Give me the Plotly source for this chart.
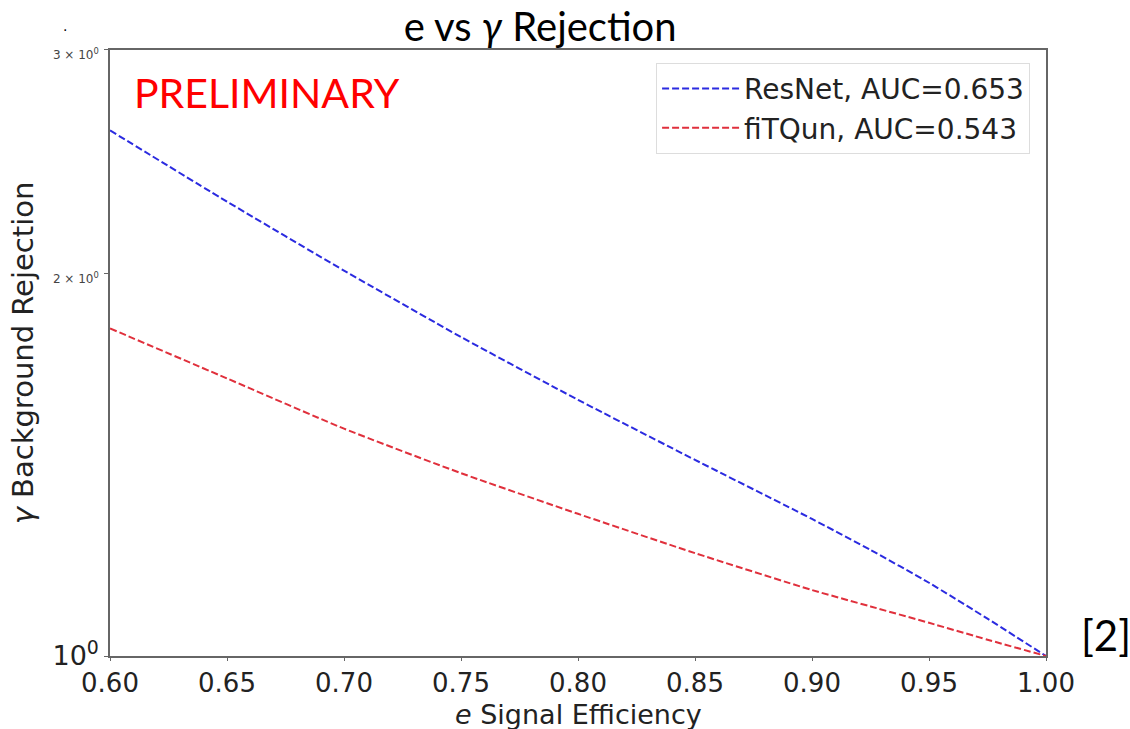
import plotly.graph_objects as go

# Data
efficiency = [0.60, 0.65, 0.70, 0.75, 0.80, 0.85, 0.90, 0.925, 0.95, 0.975, 1.00]
resnet_rej = [2.593, 2.279, 2.011, 1.783, 1.591, 1.427, 1.282, 1.212, 1.142, 1.070, 1.00]
fitqun_rej = [1.811, 1.654, 1.510, 1.393, 1.294, 1.205, 1.127, 1.094, 1.062, 1.030, 1.00]

x_ticks = [0.60, 0.65, 0.70, 0.75, 0.80, 0.85, 0.90, 0.95, 1.00]
x_ticklabels = ["0.60", "0.65", "0.70", "0.75", "0.80", "0.85", "0.90", "0.95", "1.00"]
y_ticks = [1, 2, 3]
y_ticklabels = [
    "10<sup>0</sup>",
    "<span style='font-size:12px;color:#444'>2 × 10<sup>0</sup></span>",
    "<span style='font-size:12px;color:#444'>3 × 10<sup>0</sup></span>",
]

fig = go.Figure()
fig.add_trace(go.Scatter(
    x=efficiency, y=resnet_rej, mode="lines", name="ResNet, AUC=0.653",
    line=dict(color="#2b2be0", width=2, dash="7px,3px", shape="spline", smoothing=0.5),
))
fig.add_trace(go.Scatter(
    x=efficiency, y=fitqun_rej, mode="lines", name="fiTQun, AUC=0.543",
    line=dict(color="#e0303c", width=2, dash="7px,3px", shape="spline", smoothing=0.5),
))

tick_font = dict(family="DejaVu Sans", size=26, color="#222")

fig.update_layout(
    width=1130, height=729,
    margin=dict(l=110, r=84, t=50, b=73),
    paper_bgcolor="white", plot_bgcolor="white",
    title=dict(text="e vs <i>γ</i> Rejection", x=0.478, xanchor="center",
               y=0.963, yanchor="middle",
               font=dict(family="Lato", size=40, color="black")),
    xaxis=dict(range=[0.6, 1.0], tickvals=x_ticks, ticktext=x_ticklabels,
               tickfont=tick_font, showgrid=False, zeroline=False, automargin=False,
               showline=True, linecolor="#666", linewidth=1.5, mirror=True,
               ticks="outside", ticklen=3, tickcolor="#666"),
    yaxis=dict(type="log", range=[0, 0.4771], tickvals=y_ticks, ticktext=y_ticklabels,
               tickfont=dict(family="DejaVu Sans", size=27, color="#222"),
               showgrid=False, zeroline=False, automargin=False,
               showline=True, linecolor="#666", linewidth=1.5, mirror=True,
               ticks="outside", ticklen=4, tickcolor="#666",
               title=dict(text="<i>γ</i> Background Rejection",
                          font=dict(family="DejaVu Sans", size=29, color="#222"), standoff=10)),
    legend=dict(x=0.983, y=0.979, xanchor="right", yanchor="top",
                bgcolor="white", bordercolor="#ddd", borderwidth=1,
                font=dict(family="DejaVu Sans", size=28, color="#222"),
                itemwidth=77),
    showlegend=True,
)

fig.add_annotation(text="<i>e</i> Signal Efficiency", xref="paper", yref="paper",
                   x=0.5, y=-0.096, xanchor="center", yanchor="middle",
                   showarrow=False,
                   font=dict(family="DejaVu Sans", size=27, color="#222"))
fig.add_annotation(text="PRELIMINARY", xref="paper", yref="paper",
                   x=0.024, y=0.93, xanchor="left", yanchor="middle",
                   showarrow=False, font=dict(family="Lato", size=41, color="red"))
fig.add_annotation(text="[2]", xref="paper", yref="paper",
                   x=1.035, y=0.034, xanchor="left", yanchor="middle",
                   showarrow=False, font=dict(family="Lato", size=42, color="black"))
fig.add_annotation(text=".", xref="paper", yref="paper",
                   x=-0.048, y=1.04, xanchor="center", yanchor="middle",
                   showarrow=False, font=dict(family="DejaVu Sans", size=14, color="black"))

fig.write_html("out.html")
